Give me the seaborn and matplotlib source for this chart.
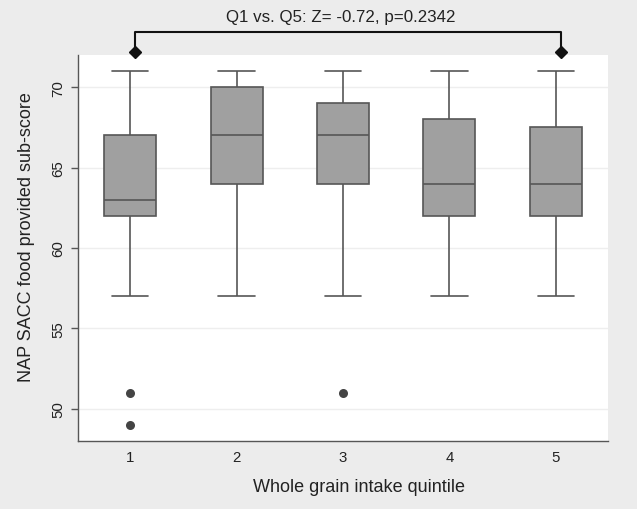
import numpy as np
import pandas as pd
import seaborn as sns
import matplotlib
matplotlib.use("Agg")
import matplotlib.pyplot as plt

## Data
quintiles = ["1", "2", "3", "4", "5"]
whisker_low = [57, 57, 57, 57, 57]
box_low = [62, 64, 64, 62, 62]
medians = [63, 67, 67, 64, 64]
box_high = [67, 70, 69, 68, 67.5]
whisker_high = [71, 71, 71, 71, 71]

outlier_quintile = ["1", "1", "3"]
outlier_score = [51, 49, 51]

test_label = "Q1 vs. Q5: Z= -0.72, p=0.2342"

# five-number summaries -> long table for seaborn
box_df = pd.DataFrame({
    "quintile": np.repeat(quintiles, 5),
    "score": np.ravel(np.column_stack([whisker_low, box_low, medians, box_high, whisker_high])),
})
out_df = pd.DataFrame({"quintile": outlier_quintile, "score": outlier_score})

## Style
sns.set_theme(style="white")
plt.rcParams["font.family"] = ["Liberation Sans", "DejaVu Sans"]
bg = "#ececec"
edge = "#565656"
txt = "#222222"

fig = plt.figure(figsize=(6.37, 5.10), dpi=100, facecolor=bg)
ax = fig.add_axes([78 / 637, 68 / 510, 530 / 637, 386 / 510])
ax.set_facecolor("white")

sns.boxplot(data=box_df, x="quintile", y="score", order=quintiles, whis=np.inf,
            width=0.49, color="#a0a0a0", linecolor=edge, linewidth=1.2,
            showfliers=False, saturation=1, capwidths=0.34, ax=ax)
sns.stripplot(data=out_df, x="quintile", y="score", order=quintiles, jitter=False,
              color="#444444", size=6.5, ax=ax)

ax.set_xlim(-0.49, 4.49)
ax.set_ylim(48, 72)
ax.set_yticks([50, 55, 60, 65, 70])
ax.yaxis.grid(True, color="#eeeeee", linewidth=1)
ax.set_axisbelow(True)

for side in ["top", "right"]:
    ax.spines[side].set_visible(False)
for side in ["left", "bottom"]:
    ax.spines[side].set_color(edge)
    ax.spines[side].set_linewidth(1.0)

ax.tick_params(axis="y", left=True, length=5, width=1, color=edge, pad=4,
               labelsize=10.8, labelrotation=90, labelcolor=txt)
ax.tick_params(axis="x", bottom=False, length=0, pad=6.5, labelsize=10.8, labelcolor=txt)
for lbl in ax.get_yticklabels():
    lbl.set_va("center")

ax.set_xlabel("Whole grain intake quintile", fontsize=13, color=txt)
ax.set_ylabel("NAP SACC food provided sub-score", fontsize=13, color=txt)
ax.xaxis.set_label_coords(0.53, -0.095)
ax.yaxis.set_label_coords(-0.081, 0.53)

## Comparison bracket above the plot
off = 0.05
ax.plot([0 + off, 0 + off, 4 + off, 4 + off], [72.2, 73.45, 73.45, 72.2],
        color="#111111", linewidth=1.5, clip_on=False)
ax.plot([0 + off, 4 + off], [72.2, 72.2], linestyle="none", marker="D",
        markersize=6, color="#111111", clip_on=False)
ax.text(1.98, 74.4, test_label, ha="center", va="center", fontsize=12.2,
        color=txt, clip_on=False)

fig.savefig("out.png", dpi=100, facecolor=bg)
